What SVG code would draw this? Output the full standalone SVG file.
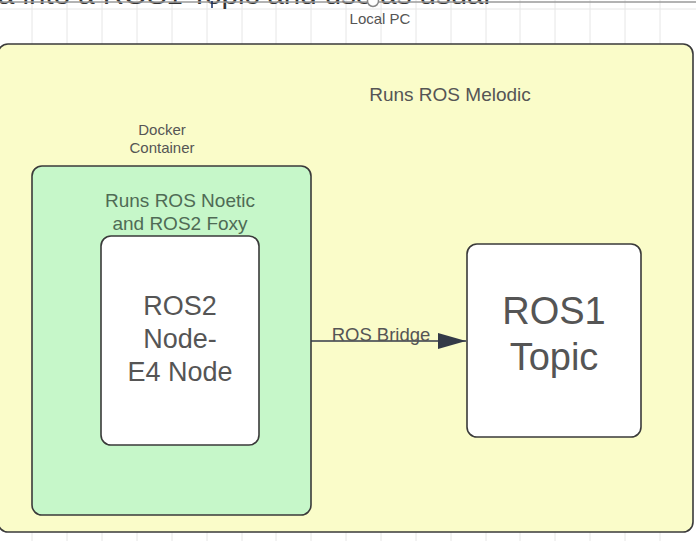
<svg xmlns="http://www.w3.org/2000/svg" width="696" height="541" viewBox="0 0 696 541">
<style>
.grid{stroke:#e6e6e6;stroke-width:1}
.box{stroke:#3a3a3a;stroke-width:1.6}
.t{font-family:"Liberation Sans",Arial,sans-serif;fill:#555;text-anchor:middle}
.g{fill:#4f6b55}
</style>
<defs>
<marker id="ah" markerWidth="28" markerHeight="16" refX="28" refY="8" orient="auto" markerUnits="userSpaceOnUse">
<path d="M0,0 L28,8 L0,16 Z" fill="#333a47"/>
</marker>
</defs>
<rect width="696" height="541" fill="#fff"/>
<g id="grid">
<line class="grid" x1="0" y1="9" x2="696" y2="9"/>
<path class="grid" d="M32,0V541M67,0V541M102,0V541M137,0V541M172,0V541M207,0V541M242,0V541M276,0V541M311,0V541M346,0V541M381,0V541M416,0V541M451,0V541M486,0V541M520,0V541M555,0V541M590,0V541M625,0V541M660,0V541"/>
</g>
<g id="top">
<text x="-2" y="4" font-family="Liberation Sans,Arial,sans-serif" font-size="24" fill="#333" textLength="492" lengthAdjust="spacingAndGlyphs">a into a ROS1 Topic and use as usual</text>
<line x1="0" y1="2" x2="696" y2="2" stroke="#9a9a9a" stroke-width="1.5"/>
<line x1="212" y1="1" x2="212" y2="8" stroke="#102a60" stroke-width="1.5"/>
<circle cx="373" cy="1" r="5.5" fill="#fff" stroke="#888" stroke-width="1.5"/>
<text class="t" x="380" y="24" font-size="15">Local PC</text>
</g>
<g id="local-pc">
<rect class="box" x="-2" y="44" width="695" height="488" rx="10" fill="#fafcc9"/>
<text class="t" x="450" y="101" font-size="19">Runs ROS Melodic</text>
</g>
<g id="docker-label">
<text class="t" x="162" y="135" font-size="15">Docker</text>
<text class="t" x="162" y="153" font-size="15">Container</text>
</g>
<g id="docker">
<rect class="box" x="32" y="166" width="279" height="349" rx="10" fill="#c6f7c9"/>
<text class="t g" x="180" y="207" font-size="19">Runs ROS Noetic</text>
<text class="t g" x="180" y="230" font-size="19">and ROS2 Foxy</text>
</g>
<g id="ros2-node">
<rect class="box" x="101" y="236" width="158" height="209" rx="10" fill="#fff"/>
<text class="t" x="180" y="315" font-size="27">ROS2</text>
<text class="t" x="180" y="348" font-size="27">Node-</text>
<text class="t" x="180" y="381" font-size="27">E4 Node</text>
</g>
<g id="ros1-topic">
<rect class="box" x="467" y="244" width="174" height="193" rx="10" fill="#fff"/>
<text class="t" x="554" y="324" font-size="38">ROS1</text>
<text class="t" x="554" y="370" font-size="38">Topic</text>
</g>
<g id="connectors">
<line x1="311" y1="341" x2="466" y2="341" stroke="#333a47" stroke-width="1.5" marker-end="url(#ah)"/>
<text class="t" x="381" y="341" font-size="18.5">ROS Bridge</text>
</g>
</svg>
